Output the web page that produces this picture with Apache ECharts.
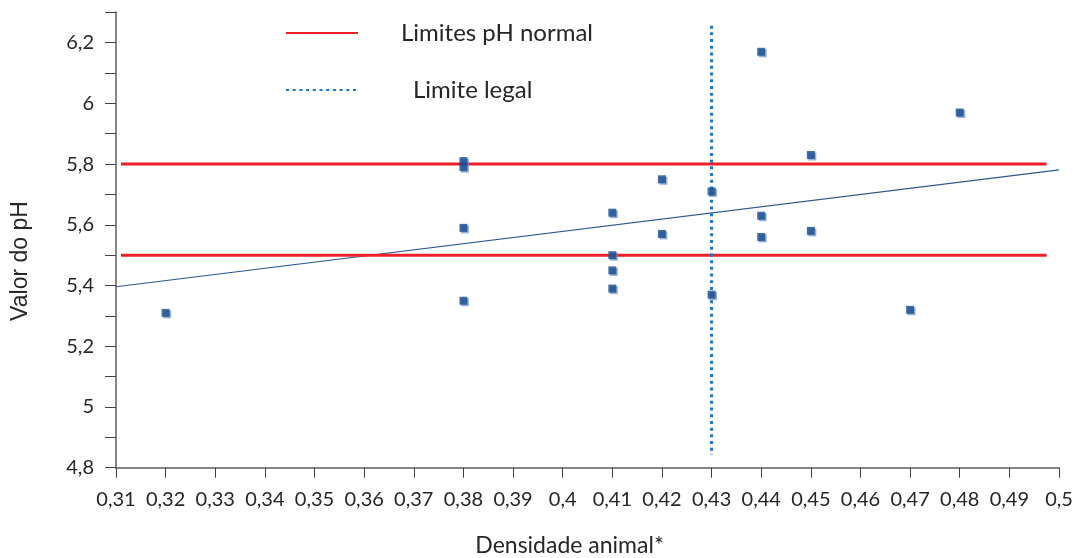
<!DOCTYPE html>
<html>
<head>
<meta charset="utf-8">
<script src="https://cdn.jsdelivr.net/npm/echarts@6/dist/echarts.min.js"></script>
<style>
html,body{margin:0;padding:0;background:#fff;}
#c{width:1073px;height:558px;}
</style>
</head>
<body>
<div id="c"></div>
<script>
// Data
var densidade = [0.32, 0.38, 0.38, 0.38, 0.38, 0.41, 0.41, 0.41, 0.41, 0.42, 0.42, 0.43, 0.43, 0.44, 0.44, 0.44, 0.45, 0.45, 0.47, 0.48];
var valorPH   = [5.31, 5.81, 5.79, 5.59, 5.35, 5.64, 5.50, 5.45, 5.39, 5.75, 5.57, 5.71, 5.37, 6.17, 5.63, 5.56, 5.83, 5.58, 5.32, 5.97];
var limitesPH = [5.5, 5.8];
var limitesX  = [0.311, 0.4975];
var limiteLegalX = 0.43;
var limiteLegalY = [6.256, 4.842];
var trendX = [0.31, 0.5];
var trendY = [5.396, 5.781];

var labelFont = 'Lato, "Open Sans", sans-serif';
function comma(v){ return String(+(+v).toFixed(2)).replace('.', ','); }

var scatterData = densidade.map(function(x, i){ return [x, valorPH[i]]; });

var chart = echarts.init(document.getElementById('c'));
chart.setOption({
  animation: false,
  backgroundColor: '#ffffff',
  grid: { left: 116, right: 14, top: 12.3, bottom: 90.3, containLabel: false, outerBoundsMode: 'none' },
  legend: [
    {
      data: ['Limites pH normal'], left: 285, top: 21, orient: 'vertical', padding: 0,
      itemWidth: 72, itemHeight: 14, selectedMode: false,
      itemStyle: { opacity: 0 },
      textStyle: { fontFamily: labelFont, fontSize: 24, color: '#262626', padding: [12, 0, 0, 38] }
    },
    {
      data: ['Limite legal'], left: 285, top: 78, orient: 'vertical', padding: 0,
      itemWidth: 72, itemHeight: 14, selectedMode: false,
      itemStyle: { opacity: 0 },
      textStyle: { fontFamily: labelFont, fontSize: 24, color: '#262626', padding: [0, 0, 6, 50] }
    }
  ],
  xAxis: {
    type: 'value', min: 0.31, max: 0.5, interval: 0.01,
    axisLine: { onZero: false, lineStyle: { color: '#868686', width: 2 } },
    axisTick: { show: true, length: 10, lineStyle: { color: '#404040', width: 1 } },
    splitLine: { show: false },
    axisLabel: { fontFamily: labelFont, fontSize: 20, color: '#262626', margin: 22,
      formatter: function(v){ return comma(v); } },
    name: 'Densidade animal*', nameLocation: 'middle', nameGap: 66,
    nameTextStyle: { fontFamily: labelFont, fontSize: 23, color: '#262626', padding: [0, 36, 0, 0] }
  },
  yAxis: {
    type: 'value', min: 4.8, max: 6.3, interval: 0.1,
    axisLine: { show: true, onZero: false, lineStyle: { color: '#868686', width: 2 } },
    axisTick: { show: true, length: 11, lineStyle: { color: '#404040', width: 1 } },
    splitLine: { show: false },
    axisLabel: { fontFamily: labelFont, fontSize: 20, color: '#262626', margin: 22,
      formatter: function(v){ var k = Math.round(v * 10); return (k % 2 === 0) ? comma(k / 10) : ''; } },
    name: 'Valor do pH', nameLocation: 'middle', nameGap: 84, nameRotate: 90,
    nameTextStyle: { fontFamily: '"Liberation Sans", Arial, sans-serif', fontSize: 23, color: '#262626', padding: [0, 0, 0, -42] }
  },
  series: [
    {
      name: 'Limites pH normal', type: 'line', symbol: 'none', silent: true, z: 3,
      itemStyle: { color: '#EE1F26' },
      lineStyle: { color: '#EE1F26', width: 3 },
      data: [[limitesX[0], limitesPH[0]], [limitesX[1], limitesPH[0]]]
    },
    {
      name: 'Limites pH normal', type: 'line', symbol: 'none', silent: true, z: 3,
      itemStyle: { color: '#EE1F26' },
      lineStyle: { color: '#EE1F26', width: 3 },
      data: [[limitesX[0], limitesPH[1]], [limitesX[1], limitesPH[1]]]
    },
    {
      name: 'Limite legal', type: 'line', symbol: 'none', silent: true, z: 4,
      itemStyle: { color: '#1B75C8' },
      lineStyle: { color: '#1B75C8', width: 3, type: [3, 3.7] },
      data: [[limiteLegalX, limiteLegalY[0]], [limiteLegalX, limiteLegalY[1]]]
    },
    {
      name: 'Tendência', type: 'line', symbol: 'none', silent: true, z: 2,
      lineStyle: { color: '#2B5894', width: 1.2 },
      data: [[trendX[0], trendY[0]], [trendX[1], trendY[1]]]
    },
    {
      name: 'pH', type: 'scatter', symbol: 'rect', symbolSize: 8, z: 5,
      itemStyle: { color: '#174B8C', shadowColor: 'rgba(110,145,200,0.9)', shadowBlur: 0, shadowOffsetX: 1.5, shadowOffsetY: 1.5 },
      data: scatterData
    }
  ]
});
</script>
</body>
</html>
